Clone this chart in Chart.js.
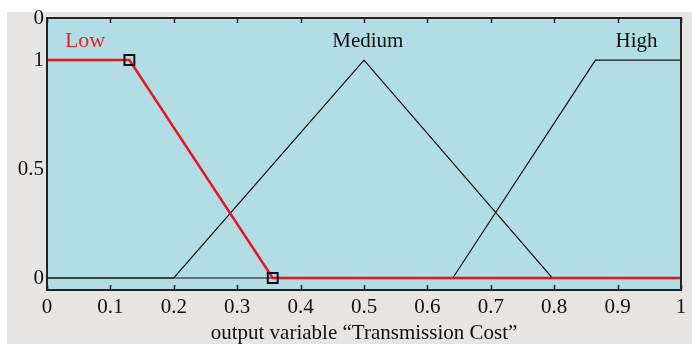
<!DOCTYPE html>
<html>
<head>
<meta charset="utf-8">
<script src="https://cdn.jsdelivr.net/npm/chart.js@4"></script>
<style>
  html, body { margin: 0; padding: 0; background: #fff; }
  #wrap { width: 692px; height: 344px; position: relative; }
</style>
</head>
<body>
<div id="wrap"><canvas id="myChart" width="692" height="344"></canvas></div>
<script>
// membership functions of "Transmission Cost"
const lowX = [0, 0.13, 0.356, 1];
const lowY = [1, 1, 0, 0];
const mediumX = [0, 0.2, 0.5, 0.797, 1];
const mediumY = [0, 0, 1, 0, 0];
const highX = [0, 0.64, 0.865, 1];
const highY = [0, 0, 1, 1];

const mfNames = ['Low', 'Medium', 'High'];
const mfLabelX = [0.06, 0.506, 0.93];
const mfLabelY = 1.087;

const xTicks = [0, 0.1, 0.2, 0.3, 0.4, 0.5, 0.6, 0.7, 0.8, 0.9, 1];
const yTickValues = [0, 0.5, 1, 1.193];
const yTickLabels = ['0', '0.5', '1', '0'];

const serif = '"Liberation Serif", "Times New Roman", serif';

function pts(xs, ys) {
    return xs.map((x, i) => ({ x: x, y: ys[i] }));
}

// background, plot area colour, tick marks and mf names
const decor = {
    id: 'decor',
    beforeDraw(chart) {
        const ctx = chart.ctx;
        const a = chart.chartArea;
        ctx.save();
        ctx.fillStyle = '#ffffff';
        ctx.fillRect(0, 0, chart.width, chart.height);
        ctx.fillStyle = '#e7e5e3';
        ctx.fillRect(7, 12, chart.width - 7, chart.height - 12);
        ctx.fillStyle = '#b3dde5';
        ctx.fillRect(a.left, a.top, a.right - a.left, a.bottom - a.top);
        ctx.restore();
    },
    afterDatasetsDraw(chart) {
        const ctx = chart.ctx;
        const a = chart.chartArea;
        const xs = chart.scales.x, ys = chart.scales.y;
        ctx.save();
        ctx.strokeStyle = '#222';
        ctx.lineWidth = 1.5;
        xTicks.forEach(v => {
            const px = Math.round(xs.getPixelForValue(v)) + 0.5;
            ctx.beginPath();
            ctx.moveTo(px, a.bottom); ctx.lineTo(px, a.bottom - 5);
            ctx.moveTo(px, a.top); ctx.lineTo(px, a.top + 5);
            ctx.stroke();
        });
        ctx.lineWidth = 2;
        ctx.strokeRect(a.left, a.top, a.right - a.left, a.bottom - a.top);
        ctx.textAlign = 'center';
        ctx.textBaseline = 'middle';
        mfNames.forEach((n, i) => {
            ctx.font = (i === 0 ? '22px ' : '21px ') + serif;
            ctx.fillStyle = i === 0 ? '#e3262c' : '#111';
            ctx.fillText(n, xs.getPixelForValue(mfLabelX[i]), ys.getPixelForValue(mfLabelY));
        });
        ctx.restore();
    }
};

function makeChart() {
    const ctx = document.getElementById('myChart').getContext('2d');
    return new Chart(ctx, {
        type: 'line',
        data: {
            datasets: [{
                label: 'Low',
                data: pts(lowX, lowY),
                borderColor: '#e8161c',
                borderWidth: 2.5,
                pointStyle: 'rect',
                pointRadius: [0, 7, 7, 0],
                pointBackgroundColor: 'rgba(0,0,0,0)',
                pointBorderColor: '#111',
                pointBorderWidth: 2
            }, {
                label: 'Medium',
                data: pts(mediumX, mediumY),
                borderColor: '#111',
                borderWidth: 1.2,
                pointRadius: 0
            }, {
                label: 'High',
                data: pts(highX, highY),
                borderColor: '#111',
                borderWidth: 1.2,
                pointRadius: 0
            }]
        },
        options: {
            responsive: false,
            animation: false,
            layout: { padding: { left: 0, top: 18, right: 11, bottom: 0 } },
            plugins: { legend: { display: false }, tooltip: { enabled: false } },
            scales: {
                x: {
                    type: 'linear',
                    min: 0, max: 1,
                    grid: { display: false, drawTicks: false },
                    border: { display: false },
                    afterBuildTicks: s => { s.ticks = xTicks.map(v => ({ value: v })); },
                    afterFit: s => { s.height = 54; },
                    ticks: {
                        padding: 5,
                        color: '#111',
                        maxRotation: 0,
                        font: { family: serif, size: 21 },
                        callback: v => String(v)
                    },
                    title: {
                        display: true,
                        text: 'output variable \u201cTransmission Cost\u201d',
                        color: '#111',
                        font: { family: serif, size: 21, lineHeight: 1 },
                        padding: { top: 0, bottom: 0 }
                    }
                },
                y: {
                    type: 'linear',
                    min: -0.055, max: 1.193,
                    grid: { display: false, drawTicks: false },
                    border: { display: false },
                    afterBuildTicks: s => { s.ticks = yTickValues.map(v => ({ value: v })); },
                    afterFit: s => { s.width = 47; },
                    ticks: {
                        padding: 3,
                        color: '#111',
                        font: { family: serif, size: 21 },
                        callback: (v, i) => yTickLabels[i]
                    }
                }
            }
        },
        plugins: [decor]
    });
}

makeChart();
</script>
</body>
</html>
